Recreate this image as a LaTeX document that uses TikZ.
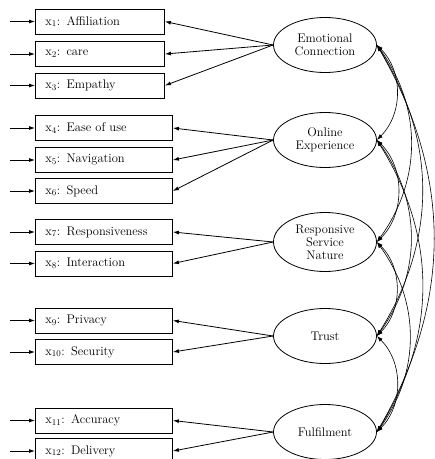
\documentclass[tikz,border=0pt]{standalone}
\usepackage{tikz}
\usetikzlibrary{arrows.meta,shapes.geometric}
\tikzset{
  item/.style={draw,line width=0.9pt,anchor=west,minimum height=25pt,
    inner xsep=10pt,inner ysep=0pt,text width=#1,align=left,
    font=\fontsize{12.5}{14}\selectfont},
  item/.default=117pt,
  factor/.style={draw,ellipse,line width=0.8pt,minimum width=103pt,
    minimum height=55pt,inner sep=0pt,align=center,
    font=\fontsize{12.5}{13}\selectfont},
}

\begin{document}
\begin{tikzpicture}[x=1pt,y=-1pt,>={Latex[length=6pt,width=4pt]},line width=0.8pt]
  \useasboundingbox (0,0) rectangle (435,459);
  % observed indicators
  \foreach \n/\y/\w/\t in {1/21.5/109pt/Affiliation,2/54/109pt/care,
      3/85.5/109pt/Empathy,4/128/117pt/Ease of use,5/160/117pt/Navigation,
      6/191/117pt/Speed,7/232/117pt/Responsiveness,8/263.5/117pt/Interaction,
      9/320.5/117pt/Privacy,10/352/117pt/Security,11/420.5/117pt/Accuracy,
      12/451/117pt/Delivery}{
    \node[item=\w] (x\n) at (35,\y) {x\textsubscript{\n}: \t};
    \coordinate (e\n) at (10,\y);
    \draw[->] (e\n) -- (x\n.west);
  }
  % latent factors
  \node[factor] (ec)  at (325,45)  {Emotional\\Connection};
  \node[factor] (oe)  at (325,140) {Online\\Experience};
  \node[factor,minimum height=59pt] (rsn) at (325,242) {Responsive\\Service\\Nature};
  \node[factor] (tr)  at (325,336) {Trust};
  \node[factor] (fu)  at (325,432) {Fulfilment};
  % loadings
  \foreach \f/\n in {ec/1,ec/2,ec/3,oe/4,oe/5,oe/6,rsn/7,rsn/8,tr/9,tr/10,fu/11,fu/12}
    \draw[->] (\f.west) -- (x\n.east);
  % covariances
  \foreach \a/\b/\k in {ec/oe/45,oe/rsn/45,rsn/tr/45,tr/fu/45,
      ec/rsn/36,oe/tr/36,rsn/fu/36,ec/tr/32,oe/fu/32,ec/fu/30}
    \draw[<->,line width=0.6pt] (\a.east) to[bend left=\k] (\b.east);
\end{tikzpicture}
\end{document}
